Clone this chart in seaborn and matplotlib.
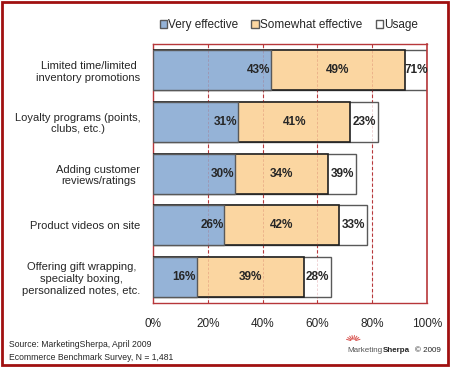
import seaborn as sns
import pandas as pd
import numpy as np
import matplotlib.pyplot as plt
from matplotlib.patches import Patch, Rectangle

# data
categories = ["Limited time/limited\ninventory promotions",
              "Loyalty programs (points,\nclubs, etc.)",
              "Adding customer\nreviews/ratings",
              "Product videos on site",
              "Offering gift wrapping,\nspecialty boxing,\npersonalized notes, etc."]
very_effective = [43, 31, 30, 26, 16]
somewhat_effective = [49, 41, 34, 42, 39]
usage = [71, 23, 39, 33, 28]

BLUE = "#95B3D7"
TAN = "#FBD6A1"
RED = "#B7373A"
EDGE = "#595959"

sns.set_style("white")
plt.rcParams['font.family'] = ['Liberation Sans', 'DejaVu Sans']

df = pd.DataFrame({"cat": categories, "very": very_effective,
                   "some": somewhat_effective, "usage": usage})
df["both"] = df["very"] + df["some"]
df["box"] = np.minimum(df["both"] + 10, 100)  # usage label box

fig = plt.figure(figsize=(4.5, 3.67), dpi=100)
ax = fig.add_axes([0.34, 0.174, 0.609, 0.706])

# gridlines behind
for g in [20, 40, 60, 80]:
    ax.axvline(g, color=RED, lw=0.8, ls=(0, (3, 2)), zorder=0)

w = 0.77
sns.barplot(data=df, x="box", y="cat", color="white", edgecolor=EDGE,
            linewidth=1.0, width=w, ax=ax, orient="h", zorder=2)
sns.barplot(data=df, x="both", y="cat", color=TAN, edgecolor="#202020",
            linewidth=1.2, width=w, ax=ax, orient="h", saturation=1, zorder=3)
sns.barplot(data=df, x="very", y="cat", color=BLUE, edgecolor=EDGE,
            linewidth=1.0, width=w, ax=ax, orient="h", saturation=1, zorder=4)

# faint gridlines over the bars
for g in [20, 40, 60, 80]:
    ax.axvline(g, color=RED, lw=0.6, ls=(0, (3, 2)), alpha=0.25, zorder=5)

for i, r in df.iterrows():
    ax.text(r["very"] - 0.3, i, f"{r['very']}%", ha="right", va="center",
            fontsize=8.5, fontweight="bold", zorder=6)
    ax.text(r["very"] + r["some"] / 2, i, f"{r['some']}%", ha="center",
            va="center", fontsize=8.5, fontweight="bold", zorder=6)
    ax.text((r["both"] + r["box"]) / 2, i, f"{r['usage']}%", ha="center",
            va="center", fontsize=8.5, fontweight="bold", zorder=6)

ax.set_xlim(0, 100)
ax.set_ylim(4.5, -0.5)
ax.set_xticks([0, 20, 40, 60, 80, 100])
ax.set_xticklabels([f"{t}%" for t in [0, 20, 40, 60, 80, 100]], fontsize=8.5)
ax.set_yticks(range(5))
ax.set_yticklabels(categories, fontsize=8, multialignment="center")
ax.set_yticks(np.arange(-0.5, 5, 1), minor=True)
ax.tick_params(axis="y", which="major", length=0, pad=9)
ax.tick_params(axis="y", which="minor", length=4, color=RED, width=1, direction="out")
ax.tick_params(axis="x", length=4, color=RED, width=1, direction="out", pad=7)
ax.set_xlabel("")
ax.set_ylabel("")
for s in ax.spines.values():
    s.set_color(RED)
    s.set_linewidth(1.0)
ax.spines["right"].set_linewidth(1.2)

handles = [Patch(facecolor=BLUE, edgecolor=EDGE, label="Very effective"),
           Patch(facecolor=TAN, edgecolor=EDGE, label="Somewhat effective"),
           Patch(facecolor="white", edgecolor=EDGE, label="Usage")]
fig.legend(handles=handles, loc="center", bbox_to_anchor=(0.642, 0.932), ncol=3,
           frameon=False, fontsize=8.5, handlelength=0.6, handleheight=0.6,
           handletextpad=0.15, columnspacing=1.1)

fig.text(0.02, 0.06, "Source: MarketingSherpa, April 2009", fontsize=6.2, va="center")
fig.text(0.02, 0.027, "Ecommerce Benchmark Survey, N = 1,481", fontsize=6.2, va="center")

# logo text, chained so the pieces sit side by side
t1 = fig.text(0.771, 0.046, "Marketing", fontsize=5.8, color="#555555", va="center")
a2 = plt.annotate("Sherpa", xy=(1, 0.5), xycoords=t1, xytext=(0.5, 0), textcoords="offset points",
                  fontsize=5.8, fontweight="bold", va="center", ha="left", annotation_clip=False)
a3 = plt.annotate("\u00a9 2009", xy=(1, 0.5), xycoords=a2, xytext=(4, 0), textcoords="offset points",
                  fontsize=5.8, va="center", ha="left", annotation_clip=False)
# little sunburst of the logo
x0, y0 = 0.785, 0.07
for a in np.radians(np.linspace(20, 160, 8)):
    fig.add_artist(plt.Line2D([x0 + 0.006 * np.cos(a), x0 + 0.016 * np.cos(a)],
                              [y0 + 0.006 * np.sin(a), y0 + 0.016 * np.sin(a)],
                              transform=fig.transFigure, color="#D9534F", lw=0.7))

fig.patches.append(Rectangle((0.004, 0.005), 0.992, 0.99, transform=fig.transFigure,
                             fill=False, edgecolor="#A01010", linewidth=2))

plt.savefig("out.png", dpi=100, facecolor="w")
